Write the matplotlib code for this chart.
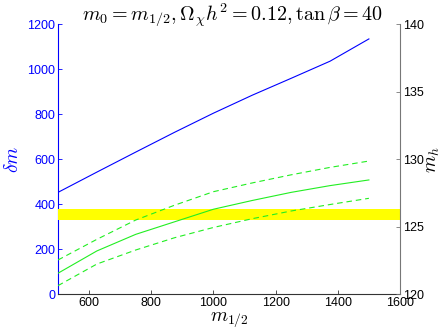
import matplotlib
matplotlib.use('Agg')
import matplotlib.pyplot as plt

plt.rcParams['mathtext.fontset'] = 'cm'
plt.rcParams['font.family'] = ['Liberation Sans', 'DejaVu Sans']

# data
m_half = [500, 625, 750, 875, 1000, 1125, 1250, 1375, 1500]
delta_m = [453, 543, 632, 720, 805, 885, 960, 1036, 1135]
mh_central = [121.56, 123.21, 124.44, 125.37, 126.3, 126.95, 127.55, 128.05, 128.47]
mh_upper = [122.54, 124.07, 125.5, 126.6, 127.6, 128.25, 128.85, 129.4, 129.87]
mh_lower = [120.64, 122.24, 123.28, 124.19, 124.95, 125.6, 126.17, 126.65, 127.11]
mh_band = (125.5, 126.3)

blue = '#0000ff'
green = '#22ee22'

fig = plt.figure(figsize=(4.41, 3.32), dpi=100)
ax = fig.add_axes([0.1315, 0.1136, 0.7755, 0.8132])
ax2 = ax.twinx()

ax.plot(m_half, delta_m, color=blue, lw=0.8)
ax.set_xlim(500, 1600)
ax.set_ylim(0, 1200)
ax.set_xticks([600, 800, 1000, 1200, 1400, 1600])
ax.set_yticks([0, 200, 400, 600, 800, 1000, 1200])

ax2.axhspan(mh_band[0], mh_band[1], color='#ffff00', lw=0, zorder=1)
ax2.plot(m_half, mh_central, color=green, lw=0.8, zorder=3)
ax2.plot(m_half, mh_upper, color=green, lw=0.8, dashes=(5, 3.5), zorder=3)
ax2.plot(m_half, mh_lower, color=green, lw=0.8, dashes=(5, 3.5), zorder=3)
ax2.set_ylim(120, 140)
ax2.set_yticks([120, 125, 130, 135, 140])

for a in (ax, ax2):
    a.spines['top'].set_visible(False)
    a.tick_params(direction='in', length=3, width=0.6, labelsize=9, pad=2)
ax.spines['left'].set_color(blue)
ax.spines['right'].set_visible(False)
ax.spines['bottom'].set_color('#333333')
ax2.spines['left'].set_visible(False)
ax2.spines['bottom'].set_visible(False)
ax2.spines['right'].set_color('#777777')
ax.tick_params(axis='y', colors=blue)
ax.tick_params(axis='x', colors='#333333', labelcolor='black')
ax2.tick_params(axis='y', colors='#777777', labelcolor='black')

ax.set_xlabel(r'$m_{1/2}$', fontsize=14, labelpad=1)
ax.set_ylabel(r'$\delta m$', fontsize=14, color=blue)
ax.yaxis.set_label_coords(-0.105, 0.5)
ax2.set_ylabel(r'$m_h$', fontsize=14)
ax2.yaxis.set_label_coords(1.073, 0.5)
fig.text(0.527, 0.995, r'$m_0 = m_{1/2}, \Omega_\chi h^2 = 0.12, \tan\beta = 40$',
         fontsize=14.5, ha='center', va='top')

fig.savefig('out.png', dpi=100)
